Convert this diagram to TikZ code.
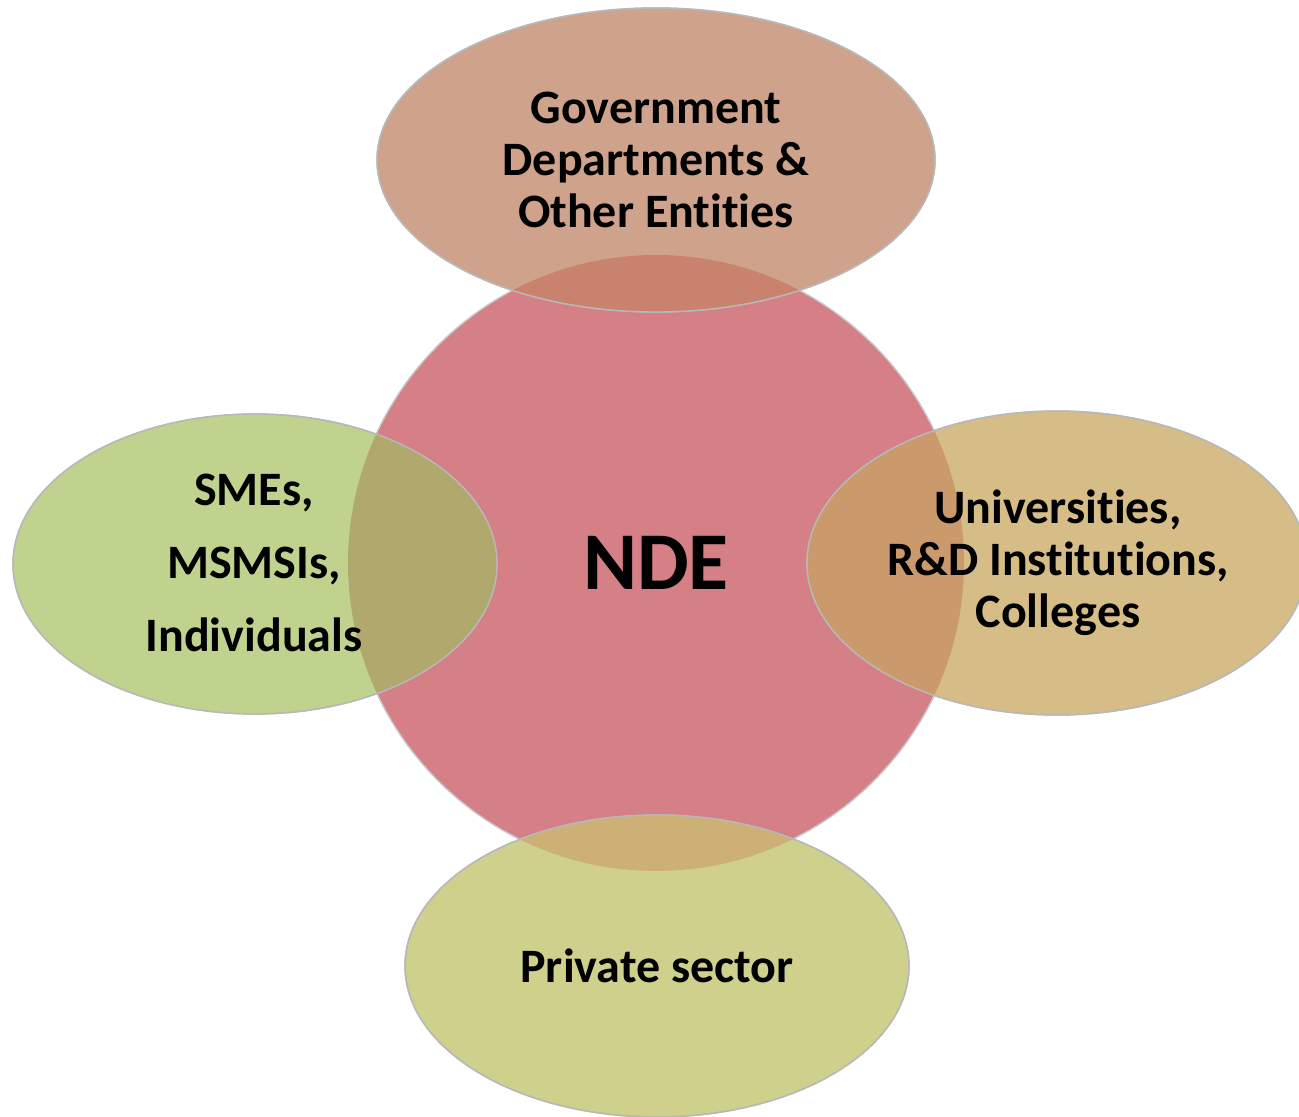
\documentclass[tikz,border=0pt]{standalone}
\usepackage{fontspec}
\setmainfont{Carlito}[RawFeature={-liga;-clig;-calt;-dlig}]
\usetikzlibrary{shapes.geometric}
\newcommand{\nolig}{\kern0pt}
\definecolor{cNDE}{HTML}{D48086}
\definecolor{cGov}{HTML}{CFA28B}
\definecolor{cGovX}{HTML}{C9826E}
\definecolor{cSme}{HTML}{BFD38F}
\definecolor{cSmeX}{HTML}{B0A86C}
\definecolor{cUni}{HTML}{D6BD88}
\definecolor{cUniX}{HTML}{CB9A6C}
\definecolor{cPriv}{HTML}{CFD08C}
\definecolor{cPrivX}{HTML}{CCB076}
\begin{document}
\begin{tikzpicture}[x=0.5pt,y=-0.5pt,
  blob/.style={ellipse, inner sep=0pt, draw=black!28, line width=0.7pt},
  lbl/.style={align=center, font=\fontsize{24}{26}\selectfont\bfseries, text=black},
  edge/.style={draw=black!28, line width=0.7pt}]
\useasboundingbox (0,0) rectangle (1299,1117);
% central circle
\node[circle, inner sep=0pt, minimum size=308pt, fill=cNDE, draw=black!22, line width=0.7pt] (nde) at (656,563) {};
% satellites
\node[blob, fill=cGov, minimum width=279pt, minimum height=152pt] (gov) at (656,160) {};
\node[blob, fill=cSme, minimum width=242pt, minimum height=150pt] (sme) at (255,564) {};
\node[blob, fill=cUni, minimum width=250pt, minimum height=152pt] (uni) at (1057,563) {};
\node[blob, fill=cPriv, minimum width=252pt, minimum height=151pt] (priv) at (657,966) {};
% overlaps
\begin{scope}
  \clip (656,563) circle [radius=154pt];
  \fill[cGovX] (656,160) ellipse [x radius=139.5pt, y radius=76pt];
  \fill[cSmeX] (255,564) ellipse [x radius=121pt, y radius=75pt];
  \fill[cUniX] (1057,563) ellipse [x radius=125pt, y radius=76pt];
  \fill[cPrivX] (657,966) ellipse [x radius=126pt, y radius=75.5pt];
\end{scope}
% outlines on top
\draw[edge] (656,160) ellipse [x radius=139.5pt, y radius=76pt];
\draw[edge] (255,564) ellipse [x radius=121pt, y radius=75pt];
\draw[edge] (1057,563) ellipse [x radius=125pt, y radius=76pt];
\draw[edge] (657,966) ellipse [x radius=126pt, y radius=75.5pt];
% labels
\node[lbl] (tgov) at (gov.center) {Government\\Departments \&\\Other Ent\nolig it\nolig ies};
\node[lbl, font=\fontsize{24}{36.5}\selectfont\bfseries] (tsme) at (254,563) {SMEs,\\MSMSIs,\\Individuals};
\node[lbl] (tuni) at (1058,563) {Universit\nolig ies,\\R\&D Inst\nolig itut\nolig ions,\\Colleges};
\node[lbl] (tpriv) at (priv.center) {Private sector};
\node[font=\fontsize{41}{44}\selectfont\bfseries] (tnde) at (nde.center) {NDE};
\end{tikzpicture}
\end{document}
